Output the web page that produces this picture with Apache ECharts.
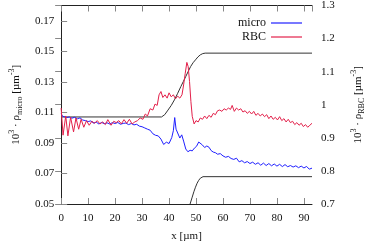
<!DOCTYPE html>
<html>
<head>
<meta charset="utf-8">
<script src="https://cdn.jsdelivr.net/npm/echarts@6/dist/echarts.min.js"></script>
<style>
  html, body { margin: 0; padding: 0; background: #fff; }
  #chart { width: 374px; height: 248px; }
</style>
</head>
<body>
<div id="chart"></div>
<script>
// micro particle density (left axis)
const microX = [0, 0.5, 1, 2, 3, 4, 5, 6, 7, 8, 9, 10, 11, 12, 13, 14, 15, 16, 17, 18, 19, 20,
  21, 22, 23, 24, 25, 26, 27, 28, 29, 30, 31, 32, 33, 34, 35, 36, 37, 38, 39, 40, 41, 41.6,
  42.1, 42.6, 43.2, 44, 44.7, 45.4, 46.2, 47, 47.8, 48.6, 49.4, 50.2, 51, 51.6, 52.4, 53.2,
  54, 54.8, 55.6, 56.4, 57.2, 58, 59, 60, 61, 62, 63, 64, 65, 66, 67, 68, 69, 70, 71, 72,
  73, 74, 75, 76, 77, 78, 79, 80, 81, 82, 83, 84, 85, 86, 87, 88, 89, 90, 91, 92, 93];
const microRho = [0.1092, 0.1075, 0.1080, 0.1066, 0.1070, 0.1062, 0.1068, 0.1058, 0.1064,
  0.1050, 0.1046, 0.1040, 0.1044, 0.1030, 0.1036, 0.1024, 0.1034, 0.1026, 0.1032, 0.1024,
  0.1033, 0.1027, 0.1034, 0.1022, 0.1028, 0.1030, 0.1020, 0.1027, 0.1018, 0.1022, 0.1010,
  0.1006, 0.0998, 0.0990, 0.0983, 0.0960, 0.0950, 0.0946, 0.0925, 0.0890, 0.0905, 0.0896,
  0.0935, 0.0980, 0.1066, 0.0990, 0.0965, 0.0932, 0.0953, 0.0912, 0.0860, 0.0842, 0.0852,
  0.0848, 0.0866, 0.0878, 0.0906, 0.0898, 0.0886, 0.0870, 0.0880, 0.0872, 0.0850, 0.0840,
  0.0836, 0.0826, 0.0830, 0.0815, 0.0806, 0.0812, 0.0798, 0.0792, 0.0800, 0.0776, 0.0784,
  0.0770, 0.0778, 0.0765, 0.0774, 0.0760, 0.0770, 0.0754, 0.0768, 0.0752, 0.0765, 0.0750,
  0.0762, 0.0748, 0.0760, 0.0745, 0.0758, 0.0744, 0.0752, 0.0742, 0.0750, 0.0738, 0.0748,
  0.0736, 0.0746, 0.0728, 0.0735];

// RBC density (right axis)
const rbcX = [0, 0.7, 1.7, 2.5, 3.5, 4.6, 5.5, 6.5, 7.4, 8.4, 9.4, 10.4, 11.4, 12.4, 13.4,
  14.4, 15.4, 16.4, 17.3, 18.5, 19.5, 20.4, 21.4, 22.3, 23.3, 24.3, 25.3, 26.3, 27.3, 28.3,
  29.3, 30.3, 31.2, 32, 33, 34, 34.8, 35.6, 36.3, 37, 37.7, 38.5, 39.3, 40, 40.8, 41.6,
  42.4, 43.2, 44, 44.8, 45.4, 46, 46.6, 47.1, 47.6, 48.1, 48.6, 49.3, 50, 50.8, 51.6, 52.4,
  53.2, 54, 54.8, 55.6, 56.4, 57.2, 58, 58.8, 59.6, 60.4, 61.2, 62, 62.8, 63.4, 64.2, 65,
  65.8, 66.6, 67.4, 68.2, 69, 69.8, 70.6, 71.4, 72.2, 73, 73.8, 74.6, 75.4, 76.2, 77, 77.8,
  78.6, 79.4, 80.2, 81, 81.8, 82.6, 83.4, 84.2, 85, 85.8, 86.6, 87.4, 88.2, 89, 89.8, 90.6,
  91.4, 92.2, 93];
const rbcRho = [0.990, 0.908, 0.966, 0.906, 0.962, 0.918, 0.960, 0.926, 0.956, 0.932, 0.952,
  0.938, 0.950, 0.944, 0.952, 0.942, 0.948, 0.940, 0.955, 0.938, 0.950, 0.946, 0.952, 0.942,
  0.955, 0.944, 0.956, 0.942, 0.948, 0.952, 0.960, 0.956, 0.972, 0.966, 0.988, 0.984, 1.002,
  0.998, 1.030, 1.040, 1.022, 1.030, 1.020, 1.036, 1.024, 1.030, 1.018, 1.026, 1.020, 1.030,
  1.060, 1.095, 1.128, 1.115, 1.070, 1.010, 0.965, 0.942, 0.952, 0.948, 0.960, 0.956, 0.966,
  0.958, 0.968, 0.962, 0.974, 0.970, 0.982, 0.984, 0.980, 0.988, 0.984, 0.990, 0.986, 0.998,
  0.980, 0.990, 0.984, 0.988, 0.978, 0.982, 0.974, 0.980, 0.972, 0.980, 0.968, 0.974, 0.966,
  0.972, 0.964, 0.970, 0.958, 0.966, 0.956, 0.962, 0.954, 0.964, 0.952, 0.958, 0.948, 0.956,
  0.946, 0.950, 0.940, 0.946, 0.938, 0.944, 0.934, 0.940, 0.932, 0.938, 0.944];

// reference profiles (black)
const profileX = [0, 37.2, 38.4, 39.6, 40.8, 42, 43.2, 44.4, 45.3, 46.2, 47.1, 48, 48.9,
  49.8, 50.7, 51.6, 52.5, 53.4, 93];
const profileRho = [0.107, 0.107, 0.1085, 0.1115, 0.1145, 0.1182, 0.1225, 0.127, 0.1302,
  0.1335, 0.1368, 0.140, 0.1425, 0.1444, 0.1463, 0.1477, 0.1485, 0.1488, 0.1488];
const lowProfileX = [47.8, 48.5, 49.2, 49.8, 50.4, 51, 51.6, 52.1, 52.6, 93];
const lowProfileRho = [0.050, 0.054, 0.058, 0.061, 0.0636, 0.0655, 0.0669, 0.0676, 0.0679, 0.0679];

const font = 'Liberation Serif';
const pairs = (xs, ys) => xs.map((x, i) => [x, ys[i]]);

const nameRich = {
  sup: { fontFamily: font, fontSize: 8, lineHeight: 8, verticalAlign: 'top', color: '#111' },
  sub: { fontFamily: font, fontSize: 8, lineHeight: 8, verticalAlign: 'bottom', color: '#111' }
};
const tickStyle = { inside: true, length: 6, lineStyle: { color: '#888', width: 1 } };
const lineStyle = { lineStyle: { color: '#222', width: 1 } };

const chart = echarts.init(document.getElementById('chart'));
chart.setOption({
  animation: false,
  backgroundColor: '#fff',
  grid: { left: 60, right: 55, top: 5, bottom: 44 },
  legend: {
    data: [{ name: 'micro', icon: 'rect' }, { name: 'RBC', icon: 'rect' }],
    orient: 'vertical',
    right: 67,
    top: 12,
    align: 'right',
    itemWidth: 31,
    itemHeight: 1.2,
    itemGap: 2,
    textStyle: { fontFamily: font, fontSize: 12, color: '#111', lineHeight: 12 }
  },
  xAxis: [
    {
      type: 'value', min: 0, max: 93, interval: 10, position: 'bottom',
      axisLine: lineStyle, axisTick: tickStyle, splitLine: { show: false },
      axisLabel: { fontFamily: font, fontSize: 11, color: '#111', margin: 9, showMaxLabel: false },
      name: 'x [µm]', nameLocation: 'middle', nameGap: 27,
      nameTextStyle: { fontFamily: font, fontSize: 11, color: '#111' }
    },
    {
      type: 'value', min: 0, max: 93, interval: 10, position: 'top',
      axisLine: lineStyle, axisTick: tickStyle, splitLine: { show: false },
      axisLabel: { show: false }
    }
  ],
  yAxis: [
    {
      type: 'value', min: 0.05, max: 0.18, interval: 0.02, position: 'left',
      axisLine: lineStyle, axisTick: tickStyle, splitLine: { show: false },
      axisLabel: { fontFamily: font, fontSize: 11, color: '#111', margin: 7, showMaxLabel: false },
      name: '10{sup|3} · ρ{sub|micro} [µm{sup|-3}]', nameLocation: 'middle', nameRotate: 90,
      nameGap: 34,
      nameTextStyle: { fontFamily: font, fontSize: 11, lineHeight: 16, color: '#111', rich: nameRich }
    },
    {
      type: 'value', min: 0.7, max: 1.3, interval: 0.1, position: 'right',
      axisLine: lineStyle, axisTick: tickStyle, splitLine: { show: false },
      axisLabel: { fontFamily: font, fontSize: 11, color: '#111', margin: 9 },
      name: '10{sup|3} · ρ{sub|RBC} [µm{sup|-3}]', nameLocation: 'middle', nameRotate: 90,
      nameGap: 38,
      nameTextStyle: { fontFamily: font, fontSize: 11, lineHeight: 16, color: '#111', rich: nameRich }
    }
  ],
  series: [
    {
      type: 'line', yAxisIndex: 0, data: pairs(profileX, profileRho), showSymbol: false,
      lineStyle: { color: '#333', width: 1 }, silent: true
    },
    {
      type: 'line', yAxisIndex: 0, data: pairs(lowProfileX, lowProfileRho), showSymbol: false,
      lineStyle: { color: '#333', width: 1 }, silent: true
    },
    {
      name: 'micro', type: 'line', yAxisIndex: 0, data: pairs(microX, microRho), showSymbol: false,
      itemStyle: { color: '#1f1fff' }, lineStyle: { color: '#1f1fff', width: 1 }
    },
    {
      name: 'RBC', type: 'line', yAxisIndex: 1, data: pairs(rbcX, rbcRho), showSymbol: false,
      itemStyle: { color: '#e3204a' }, lineStyle: { color: '#e3204a', width: 1 }
    }
  ]
});
</script>
</body>
</html>
